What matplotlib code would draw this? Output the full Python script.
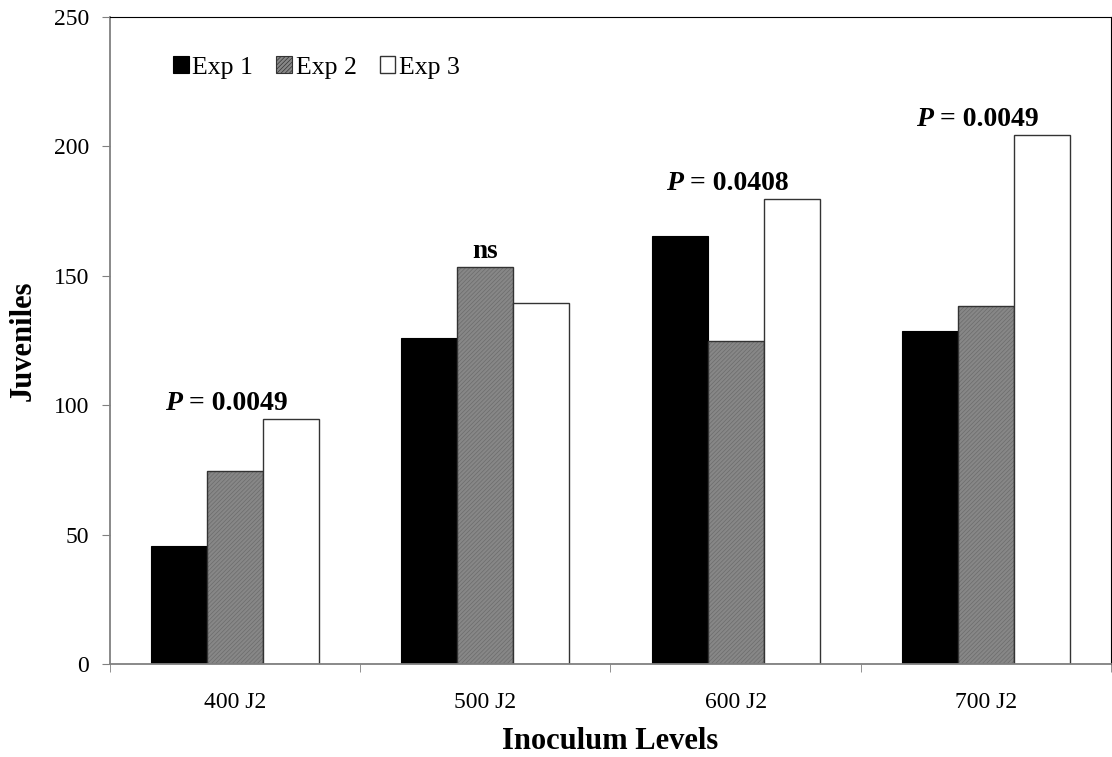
import matplotlib.pyplot as plt
import numpy as np

plt.rcParams['font.family'] = ['Liberation Serif', 'DejaVu Serif']
plt.rcParams['hatch.linewidth'] = 0.5

levels = ['400 J2', '500 J2', '600 J2', '700 J2']
exp1 = [45.5, 126, 165.5, 128.5]
exp2 = [74.5, 153.5, 125, 138.5]
exp3 = [94.5, 139.5, 179.5, 204.5]
p_labels = ['0.0049', None, '0.0408', '0.0049']

fig = plt.figure(figsize=(11.12, 7.57), dpi=100)
ax = fig.add_axes([110 / 1112, 93 / 757, 1001 / 1112, 647 / 757])

x = np.arange(len(levels))
w = 0.224

ax.bar(x - w, exp1, w, color='black', edgecolor='black', linewidth=0.8, label='Exp 1')
# Exp 2: grey fill with a fine diagonal texture, outline drawn separately
ax.bar(x, exp2, w, color='#878787', edgecolor='#6c6c6c', hatch='////////',
       linewidth=0)
ax.bar(x, exp2, w, facecolor='none', edgecolor='#333333', linewidth=1.0)
ax.bar([0], [0], 0, color='#878787', edgecolor='#333333', hatch='////////',
       linewidth=0.8, label='Exp 2')
ax.bar(x + w, exp3, w, color='white', edgecolor='#333333', linewidth=1.0, label='Exp 3')

# significance labels above each group
for i, p in enumerate(p_labels):
    top = max(exp1[i], exp2[i], exp3[i]) + 3.5
    if p is None:
        ax.text(x[i], top, 'ns', ha='center', va='baseline',
                fontsize=19.5, fontweight='bold')
    else:
        ax.annotate('P', xy=(x[i], top), xytext=(-38, 0), textcoords='offset points',
                    ha='right', va='baseline', fontsize=20, fontweight='bold',
                    fontstyle='italic')
        ax.annotate(' = ' + p, xy=(x[i], top), xytext=(-38, 0),
                    textcoords='offset points', ha='left', va='baseline',
                    fontsize=20, fontweight='bold')

ax.set_xlim(-0.5, len(levels) - 0.5)
ax.set_ylim(0, 250)
ax.set_yticks(np.arange(0, 251, 50))
ax.set_xticks(x)
ax.set_xticklabels(levels, fontsize=17)
ax.set_xticks(np.arange(-0.5, len(levels)), minor=True)
ax.tick_params(axis='x', which='major', length=0, pad=20)
ax.tick_params(axis='x', which='minor', length=6, color='#808080', direction='out')
ax.tick_params(axis='y', length=6, color='#808080', labelsize=17, direction='out', pad=9)

for side in ['left', 'bottom']:
    ax.spines[side].set_color('#808080')
    ax.spines[side].set_linewidth(1.3)
for side in ['top', 'right']:
    ax.spines[side].set_color('black')
    ax.spines[side].set_linewidth(0.8)

ax.set_xlabel('Inoculum Levels', fontsize=22, fontweight='bold')
ax.set_ylabel('Juveniles', fontsize=22, fontweight='bold')
ax.xaxis.set_label_coords(0.5, -0.097)
ax.yaxis.set_label_coords(-0.072, 0.5)

ax.legend(loc='upper left', bbox_to_anchor=(0.040, 0.975), ncol=3, frameon=False,
          fontsize=18.5, handlelength=0.6, handleheight=0.6, handletextpad=0.15,
          columnspacing=0.9)

fig.savefig('out.png', dpi=100)
